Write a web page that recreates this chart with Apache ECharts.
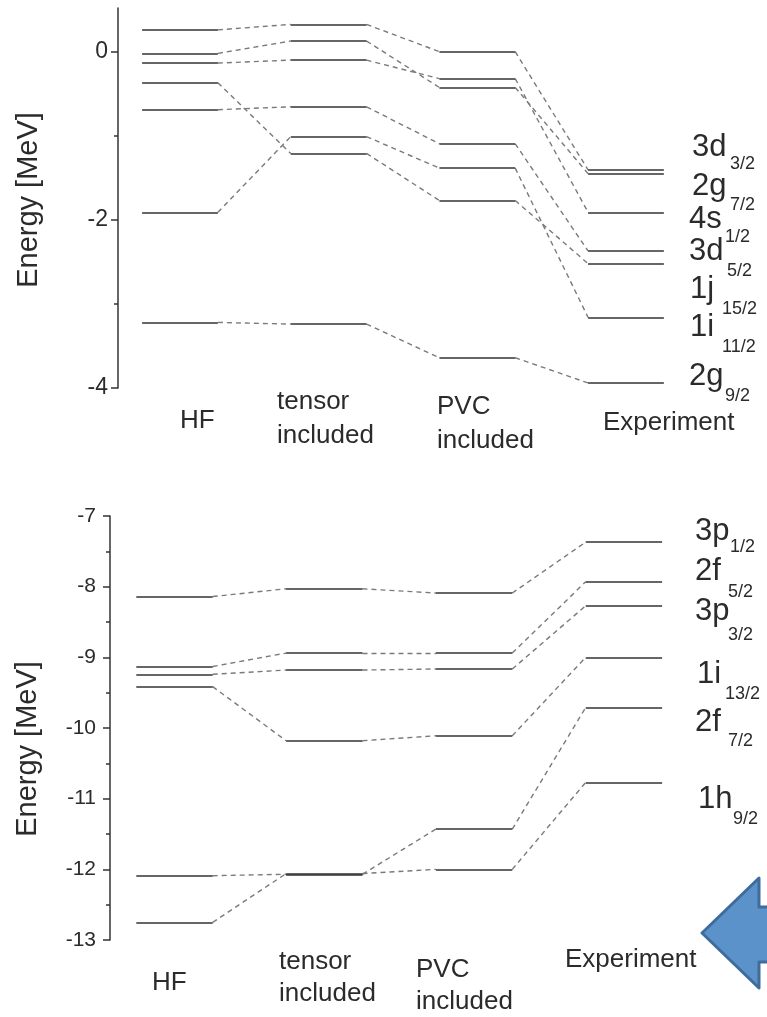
<!DOCTYPE html>
<html>
<head>
<meta charset="utf-8">
<script src="https://cdn.jsdelivr.net/npm/echarts@6/dist/echarts.min.js"></script>
<style>
  html, body { margin: 0; padding: 0; background: #ffffff; }
  #chart { width: 767px; height: 1017px; }
</style>
</head>
<body>
<div id="chart"></div>
<script>
// Calculation stages, left to right
const methods = ['HF', 'tensor\nincluded', 'PVC\nincluded', 'Experiment'];

// Neutron levels above the N=126 gap (MeV); same order in every stage
const upperOrbit = ['3d', '2g', '4s', '3d', '1j', '1i', '2g'];
const upperJ     = ['3/2', '7/2', '1/2', '5/2', '15/2', '11/2', '9/2'];
const upperHF     = [0.26, -0.02, -0.135, -0.69, -0.37, -1.91, -3.22];
const upperTensor = [0.325, 0.127, -0.10, -0.655, -1.21, -1.01, -3.24];
const upperPVC    = [0.0, -0.425, -0.32, -1.095, -1.77, -1.385, -3.64];
const upperExp    = [-1.405, -1.45, -1.91, -2.37, -2.52, -3.16, -3.94];

// Neutron levels below the N=126 gap (MeV)
const lowerOrbit = ['3p', '2f', '3p', '1i', '2f', '1h'];
const lowerJ     = ['1/2', '5/2', '3/2', '13/2', '7/2', '9/2'];
const lowerHF     = [-8.14, -9.13, -9.24, -9.415, -12.09, -12.75];
const lowerTensor = [-8.03, -8.94, -9.18, -10.18, -12.07, -12.06];
const lowerPVC    = [-8.09, -8.94, -9.165, -10.11, -11.43, -12.0];
const lowerExp    = [-7.37, -7.93, -8.27, -9.0, -9.71, -10.77];

// Axis ticks
const upperTicks = [0, -2, -4];
const upperMinorTicks = [-1, -3];
const lowerTicks = [-7, -8, -9, -10, -11, -12, -13];

// ---- layout and style ----
const HALF = 0.255;                     // half width of a level bar, in stage units
const FONT = "'Liberation Sans', Arial, Helvetica, sans-serif";
const INK = '#2b2b2b';
const AXIS = '#333333';

function levelSegments(cols) {
  const segs = [];
  cols.forEach((vals, c) => vals.forEach(v => {
    segs.push({ coords: [[c - HALF, v], [c + HALF, v]] });
  }));
  return segs;
}
function linkSegments(cols) {
  const segs = [];
  for (let c = 0; c < cols.length - 1; c++) {
    cols[c].forEach((v, i) => {
      segs.push({ coords: [[c + HALF, v], [c + 1 - HALF, cols[c + 1][i]]] });
    });
  }
  return segs;
}
function linesSeries(gi, data, style) {
  return {
    type: 'lines', coordinateSystem: 'cartesian2d',
    xAxisIndex: gi, yAxisIndex: gi === 0 ? 0 : 2,
    polyline: false, silent: true, animation: false, z: style.z || 2,
    data: data,
    lineStyle: Object.assign({ opacity: 1 }, style)
  };
}

const upperCols = [upperHF, upperTensor, upperPVC, upperExp];
const lowerCols = [lowerHF, lowerTensor, lowerPVC, lowerExp];

const solid = { color: '#333333', width: 1.6, type: 'solid', z: 3 };
const dashed = { color: '#7a7a7a', width: 1.4, type: [5, 4], z: 2 };

// right-hand state labels: [x, baseline] of orbit and of j subscript
const upperLabelPos = [
  [692, 158, 730, 170], [692, 197, 730, 211], [689, 230, 725, 243],
  [689, 262, 727, 277], [690, 300, 722, 315], [690, 338, 722, 353],
  [689, 387, 725, 402]
];
const lowerLabelPos = [
  [695, 542, 730, 553], [695, 582, 728, 598], [695, 622, 728, 641],
  [697, 685, 725, 700], [695, 733, 728, 747], [698, 810, 733, 825]
];
const upperMethodPos = [[180, 421], [277, 419], [437, 424], [603, 423]];
const lowerMethodPos = [[152, 983], [279, 977.5], [416, 986], [565, 960]];

function textAtBaseline(x, baseline, text, size) {
  return {
    type: 'text', x: x, y: baseline - 0.35 * size, silent: true, z: 10,
    style: { text: text, fontSize: size, fontFamily: FONT, fill: INK,
             align: 'left', verticalAlign: 'middle' }
  };
}

const graphics = [];
upperOrbit.forEach((o, i) => {
  const p = upperLabelPos[i];
  graphics.push(textAtBaseline(p[0], p[1], o, 31));
  graphics.push(textAtBaseline(p[2], p[3], upperJ[i], 18));
});
lowerOrbit.forEach((o, i) => {
  const p = lowerLabelPos[i];
  graphics.push(textAtBaseline(p[0], p[1], o, 31));
  graphics.push(textAtBaseline(p[2], p[3], lowerJ[i], 18));
});
methods.forEach((m, i) => {
  graphics.push({
    type: 'text', x: upperMethodPos[i][0], y: upperMethodPos[i][1], silent: true,
    style: { text: m, fontSize: 26, lineHeight: 34, fontFamily: FONT, fill: INK,
             align: 'left', verticalAlign: 'middle' }
  });
  graphics.push({
    type: 'text', x: lowerMethodPos[i][0], y: lowerMethodPos[i][1], silent: true,
    style: { text: m, fontSize: 26, lineHeight: 32, fontFamily: FONT, fill: INK,
             align: 'left', verticalAlign: 'middle' }
  });
});
// vertical axis titles
[[29, 200], [28, 749]].forEach(p => {
  graphics.push({
    type: 'text', x: p[0], y: p[1], rotation: Math.PI / 2, silent: true,
    style: { text: 'Energy [MeV]', fontSize: 29, fontFamily: FONT, fill: INK,
             align: 'center', verticalAlign: 'middle' }
  });
});
// block arrow pointing left, at the lower right
graphics.push({
  type: 'polygon', silent: true, z: 20,
  shape: { points: [[702, 933], [759, 878], [759, 907], [790, 907],
                    [790, 962], [759, 962], [759, 988]] },
  style: { fill: '#5b92c9', stroke: '#3e6c9c', lineWidth: 3, lineJoin: 'round' }
});

const axisLineStyle = { color: AXIS, width: 1.5 };

const option = {
  backgroundColor: '#ffffff',
  animation: false,
  grid: [
    { left: 118, top: 8, width: 582.3, height: 380 },
    { left: 110, top: 516, width: 588.8, height: 424 }
  ],
  xAxis: [
    { gridIndex: 0, type: 'value', min: -0.417, max: 3.5, show: false },
    { gridIndex: 1, type: 'value', min: -0.4306, max: 3.5, show: false }
  ],
  yAxis: [
    {
      gridIndex: 0, type: 'value', min: -4, max: 0.52, position: 'left',
      axisLine: { show: true, onZero: false, lineStyle: axisLineStyle },
      axisTick: { show: true, length: 7, customValues: upperTicks, lineStyle: axisLineStyle },
      axisLabel: { customValues: upperTicks, color: INK, fontSize: 23, fontFamily: FONT, margin: 10 },
      splitLine: { show: false }
    },
    {
      gridIndex: 0, type: 'value', min: -4, max: 0.52, position: 'left',
      axisLine: { show: false, onZero: false },
      axisTick: { show: true, length: 4, customValues: upperMinorTicks, lineStyle: axisLineStyle },
      axisLabel: { show: false },
      splitLine: { show: false }
    },
    {
      gridIndex: 1, type: 'value', min: -13, max: -7, interval: 1, position: 'left',
      axisLine: { show: true, onZero: false, lineStyle: axisLineStyle },
      axisTick: { show: true, length: 7, customValues: lowerTicks, lineStyle: axisLineStyle },
      minorTick: { show: true, splitNumber: 2, length: 4, lineStyle: axisLineStyle },
      axisLabel: { customValues: lowerTicks, color: INK, fontSize: 21, fontFamily: FONT, margin: 14 },
      splitLine: { show: false }
    }
  ],
  series: [
    linesSeries(0, linkSegments(upperCols), dashed),
    linesSeries(0, levelSegments(upperCols), solid),
    linesSeries(1, linkSegments(lowerCols), dashed),
    linesSeries(1, levelSegments(lowerCols), solid)
  ],
  graphic: graphics
};

const chart = echarts.init(document.getElementById('chart'), null, { renderer: 'canvas' });
chart.setOption(option);
</script>
</body>
</html>
